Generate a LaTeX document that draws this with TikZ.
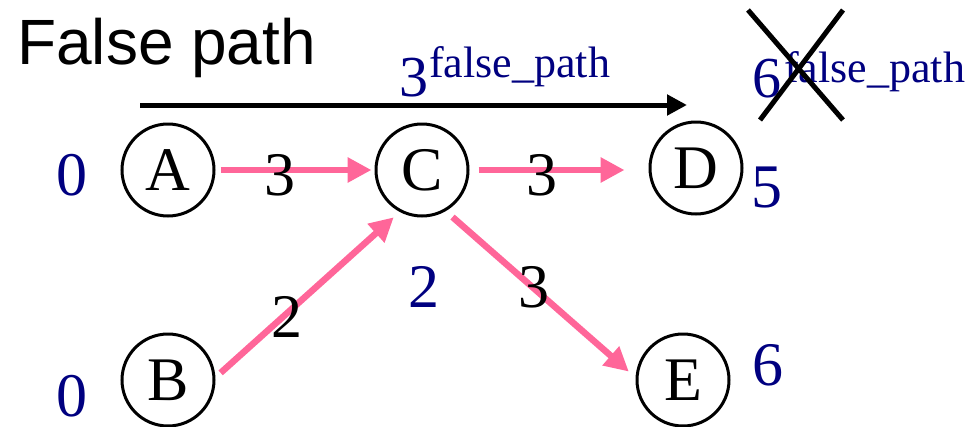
\documentclass[tikz,border=0pt]{standalone}
\usepackage{fontspec}
\setmainfont{Liberation Serif}
\newfontfamily\arialf{Liberation Sans}
\usetikzlibrary{arrows.meta}
\definecolor{pinkedge}{RGB}{255,102,153}
\definecolor{navyval}{RGB}{0,0,128}
\begin{document}
\begin{tikzpicture}[x=1pt,y=-1pt,
  vertex/.style={circle,draw,line width=3pt,minimum size=92pt,inner sep=0pt,font=\fontsize{62}{62}\selectfont},
  val/.style={anchor=base,text=navyval,inner sep=0pt,font=\fontsize{62}{62}\selectfont},
  wt/.style={anchor=base,inner sep=0pt,font=\fontsize{62}{62}\selectfont},
  supnum/.style={anchor=base,text=navyval,inner sep=0pt,font=\fontsize{58}{58}\selectfont},
  suptxt/.style={anchor=base west,text=navyval,inner sep=0pt,font=\fontsize{44}{44}\selectfont},
  pinkarrow/.style={draw=pinkedge,line width=6.5pt,-{Triangle[length=24pt,width=24pt]}},
  blackarrow/.style={draw=black,line width=5pt,-{Triangle[length=20pt,width=20pt]}},
  cross/.style={draw=black,line width=5pt}]
\useasboundingbox (0,0) rectangle (969,426);

% title
\node[anchor=base west,inner sep=0pt,font=\arialf\fontsize{64}{64}\selectfont] (title) at (17,64) {False path};

% vertices
\node[vertex] (A) at (168,170) {A};
\node[vertex] (B) at (168,380) {B};
\node[vertex] (C) at (422,170) {C};
\node[vertex] (D) at (696,168) {D};
\node[vertex] (E) at (683,380) {E};

% edges
\draw[pinkarrow,shorten <=5pt,shorten >=3pt] (A.east) -- (C.west);
\draw[pinkarrow,shorten <=9pt,shorten >=24pt] (C.east) -- (C.east -| D.west);
\draw[pinkarrow,shorten <=7pt,shorten >=8pt] (B.3) -- (C.242);
\draw[pinkarrow,shorten <=9pt,shorten >=9pt] (C.300) -- (E.177);

% edge weights
\node[wt] (wAC) at (280,195) {3};
\node[wt] (wCD) at (542,195) {3};
\node[wt] (wBC) at (287,337) {2};
\node[wt] (wCE) at (534,307) {3};

% arrival values
\node[val] (vA) at (72,195) {0};
\node[val] (vB) at (72,416) {0};
\node[val] (vC) at (424,307) {2};
\node[val] (vD) at (767,207) {5};
\node[val] (vE) at (768,385) {6};

% false path arrow
\coordinate (fs) at (140,105);
\coordinate (fe) at (687,105);
\draw[blackarrow] (fs) -- (fe);

\node[supnum] (s3) at (414,96) {3};
\node[suptxt] (s3t) at (429,77) {false\_path};

\node[supnum] (s6) at (767,97) {6};
\node[suptxt] (s6t) at (784,82) {false\_path};

% cross
\coordinate (x1) at (748,10);
\coordinate (x2) at (843,120);
\coordinate (x3) at (843,10);
\coordinate (x4) at (760,120);
\draw[cross] (x1) -- (x2);
\draw[cross] (x3) -- (x4);
\end{tikzpicture}
\end{document}
